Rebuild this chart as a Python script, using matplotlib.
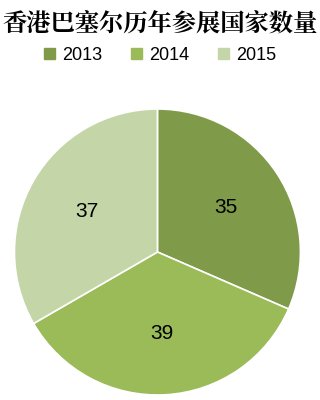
import matplotlib
matplotlib.use("Agg")
import matplotlib.pyplot as plt
import matplotlib.patches as mpatches

# data
years = ["2013", "2014", "2015"]
counts = [35, 39, 37]
colors = ["#7F9B49", "#9BBB59", "#C4D6A8"]

plt.rcParams['font.family'] = ['Noto Sans CJK SC', 'DejaVu Sans']

fig = plt.figure(figsize=(3.2, 4.0), dpi=100)
ax = fig.add_axes([0.045, 0.0125, 0.894, 0.715])

wedges, texts = ax.pie(counts, colors=colors, startangle=90, counterclock=False,
                       labels=[str(c) for c in counts], labeldistance=0.57,
                       wedgeprops=dict(edgecolor="white", linewidth=1.2),
                       textprops=dict(fontsize=15, color="black", family=["Liberation Sans", "DejaVu Sans"]))
for t in texts:
    t.set_horizontalalignment("center")
    t.set_verticalalignment("center")
ax.set_xlim(-1, 1)
ax.set_ylim(-1, 1)
ax.set_aspect("equal")

fig.text(0.5, 0.94, "香港巴塞尔历年参展国家数量", ha="center", va="center",
         fontsize=17.5, fontweight="heavy", family=["Noto Serif CJK SC", "Noto Sans CJK SC"])

handles = [mpatches.Patch(color=c, label=y) for c, y in zip(colors, years)]
fig.legend(handles=handles, loc="center", bbox_to_anchor=(0.5, 0.862), ncol=3,
           frameon=False, handlelength=0.6, handleheight=0.6,
           handletextpad=0.4, columnspacing=1.6,
           prop=dict(family=["Liberation Sans", "DejaVu Sans"], size=13))

plt.savefig("out.png", dpi=100)
